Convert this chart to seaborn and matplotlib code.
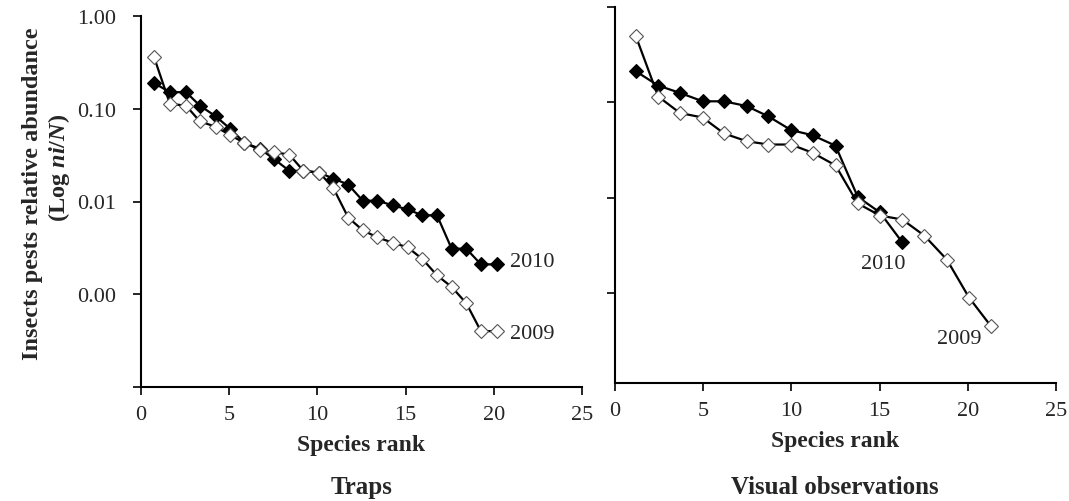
import numpy as np
import pandas as pd
import matplotlib
matplotlib.use("Agg")
import matplotlib.pyplot as plt
from matplotlib.ticker import FixedLocator, NullLocator
import seaborn as sns

# ---------------- data ----------------
traps_rank = [0.74, 1.64, 2.55, 3.34, 4.23, 5.05, 5.86, 6.75, 7.56, 8.41, 9.20, 10.11,
              10.90, 11.75, 12.57, 13.40, 14.27, 15.12, 15.95, 16.78, 17.61, 18.44, 19.27, 20.18]
traps_2009 = [0.36, 0.113, 0.108, 0.073, 0.064, 0.052, 0.043, 0.036, 0.034, 0.032, 0.0215, 0.0205,
              0.014, 0.0067, 0.0049, 0.0041, 0.0036, 0.0032, 0.0024, 0.0016, 0.0012, 0.0008, 0.0004, 0.0004]
traps_2010 = [0.189, 0.151, 0.151, 0.108, 0.083, 0.061, 0.043, 0.037, 0.0285, 0.0214, 0.0214, 0.0204,
              0.0177, 0.0152, 0.0102, 0.0102, 0.0091, 0.0082, 0.0071, 0.0071, 0.0031, 0.0031, 0.0021, 0.0021]

visual_rank_2009 = [1.17, 2.45, 3.68, 4.97, 6.18, 7.46, 8.69, 9.98, 11.2, 12.5, 13.76, 15.02,
                    16.29, 17.54, 18.81, 20.07, 21.32]
visual_2009 = [0.497, 0.1145, 0.077, 0.069, 0.047, 0.039, 0.036, 0.036, 0.0295, 0.0218, 0.0087,
               0.0065, 0.0059, 0.0040, 0.00225, 0.0009, 0.00045]
visual_rank_2010 = [1.17, 2.45, 3.68, 4.97, 6.18, 7.46, 8.69, 9.98, 11.2, 12.5, 13.76, 15.02, 16.29]
visual_2010 = [0.211, 0.149, 0.125, 0.102, 0.102, 0.091, 0.071, 0.051, 0.045, 0.035, 0.0102, 0.0070, 0.0034]

ytick_values = [1e-4, 1e-3, 1e-2, 1e-1, 1.0]
ytick_labels = ["", "0.00", "0.01", "0.10", "1.00"]
grid_values = [1e-3, 1e-2, 1e-1]
xtick_values = [0, 5, 10, 15, 20, 25]
panel_titles = ["Traps", "Visual observations"]
series_labels = ["2009", "2010"]

# ---------------- style ----------------
sns.set_theme(style="white")
plt.rcParams["font.family"] = ["Liberation Serif", "DejaVu Serif"]
plt.rcParams["mathtext.fontset"] = "custom"
plt.rcParams["mathtext.it"] = "Liberation Serif:italic:bold"
plt.rcParams["mathtext.rm"] = "Liberation Serif:bold"
plt.rcParams["mathtext.bf"] = "Liberation Serif:bold"

fig = plt.figure(figsize=(10.69, 5.02), dpi=100)
W, H = 1069, 502


def make_axes(left_px, right_px, top_px, bottom_px):
    return fig.add_axes([left_px / W, (H - bottom_px) / H,
                         (right_px - left_px) / W, (bottom_px - top_px) / H])


ax1 = make_axes(141, 582, 17, 388)
ax2 = make_axes(615, 1056, 7.6, 384)

line_kw = dict(color="black", linewidth=1.6, marker="D", markersize=7)


def draw(ax, x, y, filled):
    df = pd.DataFrame({"rank": x, "abund": y})
    sns.lineplot(data=df, x="rank", y="abund", ax=ax, sort=False,
                 markerfacecolor="black" if filled else "white",
                 markeredgecolor="black" if filled else "#555555",
                 markeredgewidth=0.8, zorder=3 if filled else 4, **line_kw)


draw(ax1, traps_rank, traps_2010, True)
draw(ax1, traps_rank, traps_2009, False)
draw(ax2, visual_rank_2010, visual_2010, True)
draw(ax2, visual_rank_2009, visual_2009, False)

for ax, ymin, show_labels in [(ax1, 1e-4, True), (ax2, 10 ** -3.94, False)]:
    ax.set_yscale("log")
    ax.set_ylim(ymin, 1.0)
    ax.set_xlim(0, 25)
    ax.yaxis.set_major_locator(FixedLocator(ytick_values))
    ax.yaxis.set_minor_locator(FixedLocator(grid_values))
    ax.yaxis.set_ticklabels(ytick_labels if show_labels else [""] * len(ytick_values))
    ax.xaxis.set_major_locator(FixedLocator(xtick_values))
    ax.xaxis.set_minor_locator(NullLocator())
    ax.grid(False)
    ax.grid(True, which="minor", axis="y", color="#aaaaaa", linewidth=1.3)
    ax.tick_params(axis="y", which="minor", length=0)
    ax.tick_params(axis="both", which="major", direction="out", length=6, width=1.2,
                   color="black", labelsize=16, left=True, bottom=True)
    ax.tick_params(axis="y", which="major", pad=12)
    ax.tick_params(axis="x", which="major", pad=7)
    for s in ["top", "right"]:
        ax.spines[s].set_visible(False)
    for s in ["left", "bottom"]:
        ax.spines[s].set_color("black")
        ax.spines[s].set_linewidth(1.5)
    ax.set_xlabel("Species rank", fontsize=17, fontweight="bold", labelpad=7)
    ax.set_ylabel("")
    ax.set_facecolor("white")

# series labels
ax1.text(20.9, 0.00226, series_labels[1], fontsize=16, ha="left", va="center")
ax1.text(20.9, 0.00038, series_labels[0], fontsize=16, ha="left", va="center")
ax2.text(15.19, 0.00204, series_labels[1], fontsize=16, ha="center", va="center")
ax2.text(19.53, 0.000336, series_labels[0], fontsize=16, ha="center", va="center")

# panel titles under the axes
fig.text(361.5 / W, 1 - 488 / H, panel_titles[0], fontsize=18, fontweight="bold",
         ha="center", va="center")
fig.text(835 / W, 1 - 488 / H, panel_titles[1], fontsize=18, fontweight="bold",
         ha="center", va="center")

# y label (two lines)
fig.text(33 / W, 1 - 194 / H, "Insects pests relative abundance", fontsize=17.5,
         fontweight="bold", rotation=90, ha="center", va="center")
fig.text(59 / W, 1 - 168 / H, r"(Log $ni/N$)", fontsize=17.5, fontweight="bold",
         rotation=90, ha="center", va="center")

fig.savefig("out.png", dpi=100, facecolor="white")
